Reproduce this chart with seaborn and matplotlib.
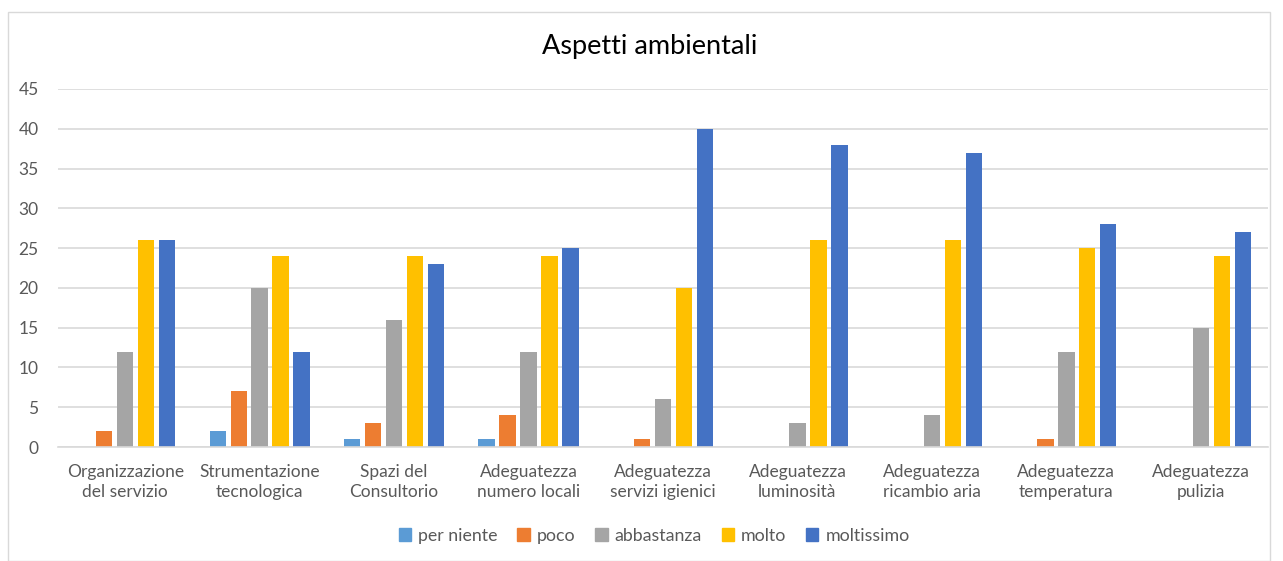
import matplotlib
matplotlib.use("Agg")
import matplotlib.pyplot as plt
from matplotlib.patches import Rectangle
import seaborn as sns
import pandas as pd

categories = [
    "Organizzazione\ndel servizio",
    "Strumentazione\ntecnologica",
    "Spazi del\nConsultorio",
    "Adeguatezza\nnumero locali",
    "Adeguatezza\nservizi igienici",
    "Adeguatezza\nluminosità",
    "Adeguatezza\nricambio aria",
    "Adeguatezza\ntemperatura",
    "Adeguatezza\npulizia",
]
levels = ["per niente", "poco", "abbastanza", "molto", "moltissimo"]

per_niente = [0, 2, 1, 1, 0, 0, 0, 0, 0]
poco = [2, 7, 3, 4, 1, 0, 0, 1, 0]
abbastanza = [12, 20, 16, 12, 6, 3, 4, 12, 15]
molto = [26, 24, 24, 24, 20, 26, 26, 25, 24]
moltissimo = [26, 12, 23, 25, 40, 38, 37, 28, 27]

colors = ["#5B9BD5", "#ED7D31", "#A5A5A5", "#FFC000", "#4472C4"]

series = [per_niente, poco, abbastanza, molto, moltissimo]
rows = []
for lvl, vals in zip(levels, series):
    for cat, v in zip(categories, vals):
        rows.append({"categoria": cat, "giudizio": lvl, "valore": v})
df = pd.DataFrame(rows)

sns.set_theme(style="white")
plt.rcParams["font.family"] = ["Lato", "DejaVu Sans"]

fig = plt.figure(figsize=(12.83, 5.61), dpi=100)
ax = fig.add_axes([0.0452, 0.2032, 0.9431, 0.6382])

sns.barplot(
    data=df, x="categoria", y="valore", hue="giudizio",
    order=categories, hue_order=levels, palette=colors, saturation=1,
    width=0.78, gap=0.22, errorbar=None, ax=ax, legend=False,
    linewidth=0,
)

ax.set_ylim(0, 45)
ax.set_yticks(range(0, 46, 5))
ax.set_xlim(-0.5, len(categories) - 0.5)
ax.yaxis.grid(True, color="#D9D9D9", linewidth=1.2)
ax.set_axisbelow(True)
for side in ["left", "right", "top"]:
    ax.spines[side].set_visible(False)
ax.spines["bottom"].set_color("#D9D9D9")
ax.spines["bottom"].set_linewidth(1.2)
ax.set_xlabel("")
ax.set_ylabel("")
ax.tick_params(axis="both", length=0, colors="#595959", labelsize=12.5)
ax.tick_params(axis="x", pad=12)
ax.tick_params(axis="y", pad=14)
for lbl in ax.get_xticklabels():
    lbl.set_linespacing(1.35)

fig.text(0.5066, 0.918, "Aspetti ambientali", ha="center", va="center",
         fontsize=19.5, color="#000000")

handles = [Rectangle((0, 0), 1, 1, color=c) for c in colors]
fig.legend(handles, levels, loc="center", bbox_to_anchor=(0.51, 0.045),
           ncol=5, frameon=False, fontsize=12.8, handlelength=0.7,
           handleheight=0.7, handletextpad=0.4, columnspacing=1.1,
           labelcolor="#595959")

# light frame around the chart area
fig.patches.append(Rectangle((8 / 1283, 0), 1262 / 1283, 549 / 561,
                             transform=fig.transFigure, fill=False,
                             edgecolor="#D9D9D9", linewidth=1))

fig.savefig("out.png", dpi=100, facecolor="white")
